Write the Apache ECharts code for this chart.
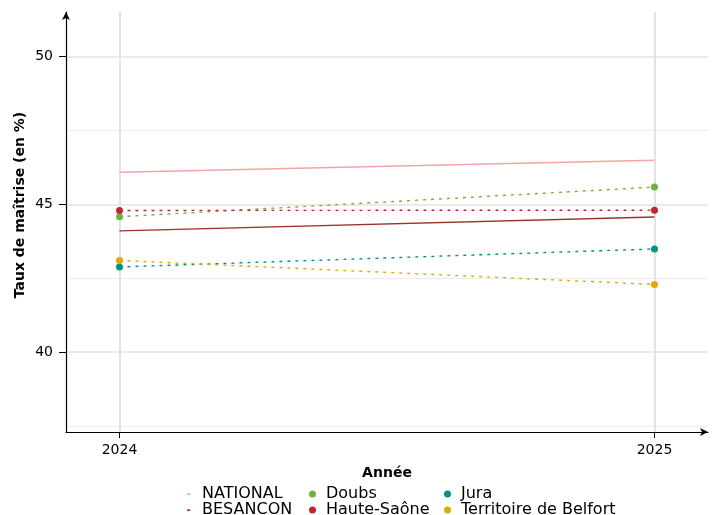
<!DOCTYPE html>
<html><head><meta charset="utf-8">
<script src="https://cdn.jsdelivr.net/npm/echarts@6/dist/echarts.min.js"></script>
<style>html,body{margin:0;padding:0;background:#fff}#c{width:724px;height:515px}</style>
</head><body><div id="c"></div>
<script>
const years = [2024, 2025];
const national = [46.08, 46.49];
const besancon = [44.10, 44.57];
const doubs = [44.58, 45.58];
const hauteSaone = [44.79, 44.80];
const jura = [42.88, 43.49];
const belfort = [43.10, 42.29];
const yTicks = [40, 45, 50];
const yMinor = [37.5, 42.5, 47.5];

const FONT = 'DejaVu Sans';
const chart = echarts.init(document.getElementById('c'));
const pts = v => years.map((y, i) => [y, v[i]]);

function lineSeries(name, vals, color, dashed, symbols) {
  return {
    name, type: 'line', data: pts(vals), xAxisIndex: 0, yAxisIndex: 0,
    showSymbol: symbols, symbol: 'circle', symbolSize: 7,
    itemStyle: { color },
    lineStyle: { color, width: 1.4, type: dashed ? [3, 5] : 'solid' },
    emphasis: { disabled: true }, animation: false, z: symbols ? 3 : 2
  };
}

const legendBase = {
  orient: 'vertical', itemWidth: 7, itemHeight: 7, itemGap: 0, bottom: -3, padding: 0,
  textStyle: { fontFamily: FONT, fontSize: 16, color: '#000', padding: [0, 0, 0, 5] },
  selectedMode: false
};
const dash = 'path://M0,0M10,10M3,4h4.5v2.5h-4.5z';

chart.setOption({
  animation: false,
  grid: { left: 66, right: 16, top: 12, bottom: 83, containLabel: false },
  xAxis: {
    type: 'value', min: 2023.9, max: 2025.1,
    axisLine: { show: true, lineStyle: { color: '#000', width: 1.2 }, symbol: ['none', 'arrow'], symbolSize: [6, 8] },
    axisTick: { show: true, length: 6, customValues: years, lineStyle: { color: '#000' } },
    axisLabel: { customValues: years, fontFamily: FONT, fontSize: 14, color: '#000', margin: 11, formatter: v => String(v) },
    splitLine: { show: true, lineStyle: { color: '#e3e3e3', width: 2 } }
  },
  yAxis: [{
    type: 'value', min: 37.3, max: 51.5,
    axisLine: { show: true, lineStyle: { color: '#000', width: 1.2 }, symbol: ['none', 'arrow'], symbolSize: [6, 8] },
    axisTick: { show: true, length: 7, customValues: yTicks, lineStyle: { color: '#000' } },
    axisLabel: { customValues: yTicks, fontFamily: FONT, fontSize: 14, color: '#000', margin: 13 },
    splitLine: { show: true, lineStyle: { color: '#e3e3e3', width: 1.5 } }
  }, {
    type: 'value', min: 37.3, max: 51.5, position: 'left',
    axisLine: { show: false }, axisLabel: { show: false },
    axisTick: { show: false, customValues: yMinor },
    splitLine: { show: true, lineStyle: { color: '#ececec', width: 1 } }
  }],
  legend: [
    Object.assign({}, legendBase, { left: 185, data: [
      { name: 'NATIONAL', icon: dash, itemStyle: { color: '#f4a4a4' } },
      { name: 'BESANCON', icon: dash, itemStyle: { color: '#a8302a' } }] }),
    Object.assign({}, legendBase, { left: 309, data: [
      { name: 'Doubs', icon: 'circle' }, { name: 'Haute-Saône', icon: 'circle' }] }),
    Object.assign({}, legendBase, { left: 444, data: [
      { name: 'Jura', icon: 'circle' }, { name: 'Territoire de Belfort', icon: 'circle' }] })
  ],
  graphic: [
    { type: 'text', x: 20, y: 205, rotation: Math.PI / 2,
      style: { text: 'Taux de maîtrise (en %)', fontFamily: FONT, fontSize: 14, fontWeight: 'bold', fill: '#000', textAlign: 'center', textVerticalAlign: 'middle' } },
    { type: 'text', x: 387, y: 473,
      style: { text: 'Année', fontFamily: FONT, fontSize: 14, fontWeight: 'bold', fill: '#000', textAlign: 'center', textVerticalAlign: 'middle' } }
  ],
  series: [
    lineSeries('NATIONAL', national, '#f4a4a4', false, false),
    lineSeries('BESANCON', besancon, '#9c3328', false, false),
    lineSeries('Doubs', doubs, '#6db33f', true, true),
    lineSeries('Haute-Saône', hauteSaone, '#c1272d', true, true),
    lineSeries('Jura', jura, '#009384', true, true),
    lineSeries('Territoire de Belfort', belfort, '#e3a800', true, true)
  ]
});
</script></body></html>
